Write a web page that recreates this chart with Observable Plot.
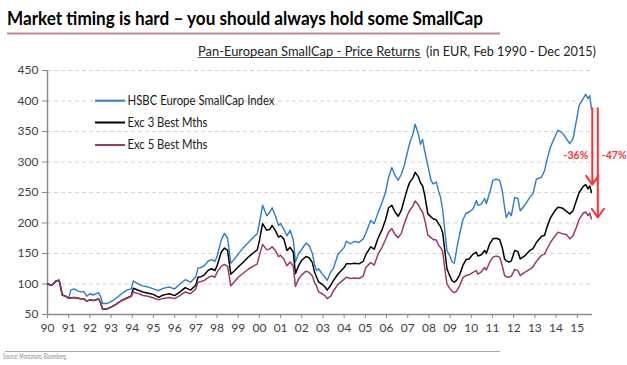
<!DOCTYPE html>
<html>
<head>
<meta charset="utf-8">
<script src="https://cdn.jsdelivr.net/npm/d3@7"></script>
<script src="https://cdn.jsdelivr.net/npm/@observablehq/plot@0.6"></script>
<style>
  html, body { margin: 0; padding: 0; background: #fff; }
  #wrap { position: relative; width: 627px; height: 365px; overflow: hidden; font-family: Lato, "Open Sans", sans-serif; }
  #chart, #overlay { position: absolute; left: 0; top: 0; }
  #overlay { pointer-events: none; }
</style>
</head>
<body>
<div id="wrap">
  <div id="chart"></div>
  <svg id="overlay" width="627" height="365"></svg>
</div>
<script>
// ---- data ----
const years = [
  1990.00,1990.20,1990.40,1990.55,1990.70,1990.85,1991.00,1991.10,1991.25,1991.40,1991.55,1991.70,1991.85,
  1992.00,1992.15,1992.30,1992.40,1992.50,1992.60,1992.80,1993.00,1993.25,1993.50,1993.75,1993.95,
  1994.05,1994.20,1994.35,1994.50,1994.75,1995.00,1995.25,1995.40,1995.60,1995.75,1996.00,1996.25,1996.50,1996.75,
  1997.00,1997.10,1997.25,1997.40,1997.60,1997.75,1997.90,1998.00,1998.20,1998.35,1998.50,1998.65,1998.80,
  1999.00,1999.25,1999.50,1999.75,1999.90,2000.00,2000.15,2000.35,2000.50,2000.60,2000.75,2000.90,
  2001.00,2001.15,2001.30,2001.45,2001.60,2001.70,2001.85,2002.00,2002.20,2002.35,2002.50,2002.60,2002.70,2002.80,2002.95,
  2003.10,2003.20,2003.37,2003.50,2003.70,2004.00,2004.10,2004.30,2004.50,2004.70,2004.90,
  2005.02,2005.25,2005.42,2005.60,2005.80,2005.95,2006.10,2006.25,2006.40,2006.55,2006.70,2006.85,
  2007.00,2007.10,2007.25,2007.35,2007.50,2007.60,2007.70,2007.80,2007.95,2008.10,2008.20,2008.35,2008.45,2008.55,2008.65,2008.75,2008.85,
  2009.00,2009.10,2009.20,2009.30,2009.45,2009.60,2009.75,2009.90,2010.08,2010.24,2010.31,2010.47,2010.63,2010.71,2010.87,
  2011.02,2011.18,2011.34,2011.46,2011.57,2011.65,2011.78,2011.89,2012.05,2012.20,2012.31,2012.52,2012.76,2012.91,
  2013.07,2013.31,2013.46,2013.57,2013.73,2013.94,2014.09,2014.25,2014.36,2014.49,2014.65,2014.80,2014.96,
  2015.09,2015.28,2015.40,2015.51,2015.59,2015.67
];
const hsbc = [
  100,98,105,106,82,80,77,90,92,89,87,88,80,
  84,82,84,86,80,68,68,71,77,84,90,92,
  105,102,99,97,95,92,89,92,94,95,92,100,107,103,
  112,126,127,130,138,140,137,145,172,183,175,134,140,
  149,160,169,178,182,200,229,212,218,225,212,196,
  199,190,179,188,172,136,150,157,167,163,150,132,122,125,117,
  111,106,120,126,148,160,170,166,170,168,174,
  183,204,199,217,235,250,275,291,278,270,280,296,
  318,332,346,362,346,329,337,318,294,270,264,267,253,242,221,188,155,
  145,136,134,155,182,205,216,218,223,237,229,231,240,232,250,
  270,272,270,253,226,209,218,212,242,240,220,229,242,248,
  272,275,286,303,324,341,352,349,345,338,330,338,368,
  393,404,411,404,409,387
];
const exc3 = [
  100,98,105,106,82,80,77,77,78,77,76,76,72,
  74,73,74,76,70,59,59,62,67,73,77,80,
  93,91,89,87,85,83,78,81,83,84,81,87,94,90,
  98,111,112,115,123,125,122,130,152,159,155,116,121,
  128,136,145,152,156,171,199,188,190,196,188,177,
  179,174,155,160,152,117,130,139,145,143,135,120,111,103,100,
  95,90,98,106,116,127,133,133,134,133,137,
  148,161,157,175,190,205,225,229,218,211,221,240,
  258,267,274,283,276,266,261,246,215,210,207,205,199,194,184,155,125,
  112,105,103,106,115,130,140,141,149,152,146,148,155,150,166,
  174,175,173,160,141,138,136,138,155,153,141,146,155,158,
  168,178,180,193,208,220,226,225,223,219,215,220,237,
  250,260,263,256,261,250
];
const exc5 = [
  100,98,105,106,82,80,77,77,78,77,76,76,72,
  74,73,74,76,70,59,59,62,67,73,77,80,
  87,85,84,81,80,77,74,76,77,78,76,81,87,84,
  92,103,104,106,111,113,111,119,129,132,129,97,103,
  111,118,125,130,133,147,165,156,158,161,155,145,
  147,141,130,136,129,96,108,115,121,119,113,103,96,87,84,
  81,76,80,89,99,108,111,109,110,109,113,
  127,135,131,149,161,173,185,191,181,176,183,200,
  214,221,228,236,230,223,218,206,180,176,173,172,164,160,153,125,100,
  92,88,86,88,97,110,114,115,119,122,116,120,127,123,136,
  144,146,144,130,114,112,111,113,124,122,114,119,124,128,
  137,147,149,157,168,178,185,183,182,181,174,179,193,
  206,216,218,212,216,207
];
const seriesNames = ["HSBC Europe SmallCap Index", "Exc 3 Best Mths", "Exc 5 Best Mths"];
const seriesColors = ["#2f7bc8", "#000000", "#983a6a"];
const yTicks = [50, 100, 150, 200, 250, 300, 350, 400, 450];
const xTicks = [1990,1991,1992,1993,1994,1995,1996,1997,1998,1999,2000,2001,2002,2003,2004,2005,2006,2007,2008,2009,2010,2011,2012,2013,2014,2015];
const xTickLabels = ["90","91","92","93","94","95","96","97","98","99","00","01","02","03","04","05","06","07","08","09","10","11","12","13","14","15"];
// drawdown arrows: x (year), start value, end value, label
const arrowX = [2015.71, 2015.97];
const arrowFrom = [388, 388];
const arrowTo = [263, 209];
const arrowLabels = ["-36%", "-47%"];
const arrowLabelY = [310, 310];

const titleText = "Market timing is hard \u2013 you should always hold some SmallCap";
const subtitleMain = "Pan-European SmallCap - Price Returns";
const subtitleRest = "(in EUR, Feb 1990 -  Dec 2015)";
const sourceText = "Source: Montanaro, Bloomberg.";

// ---- build tables ----
const allSeries = [hsbc, exc3, exc5];
const rows = allSeries.map((vals, s) => years.map((t, i) => ({t, v: vals[i], s: seriesNames[s]})));
const arrows = arrowX.map((x, i) => ({x, from: arrowFrom[i], to: arrowTo[i], label: arrowLabels[i], ly: arrowLabelY[i]}));

const plot = Plot.plot({
  width: 627,
  height: 365,
  marginTop: 70,
  marginBottom: 51,
  marginLeft: 47,
  marginRight: 35,
  style: {fontFamily: "Lato, 'Open Sans', sans-serif", fontSize: "12px", color: "#404040", background: "transparent", overflow: "visible"},
  x: {domain: [1990, 2015.72], label: null},
  y: {domain: [50, 450], label: null},
  marks: [
    Plot.gridY(yTicks.filter(d => d > 50), {stroke: "#d4d4d4", strokeOpacity: 1, strokeDasharray: "4,3"}),
    Plot.axisY({ticks: yTicks, tickSize: 5, tickPadding: 4, stroke: "#888", fill: "#404040", fontSize: 12}),
    Plot.axisX({ticks: xTicks, tickFormat: d => xTickLabels[xTicks.indexOf(d)], tickSize: 4, tickPadding: 5, stroke: "#888", fill: "#404040", fontSize: 12}),
    Plot.ruleX([1990], {stroke: "#8c8c8c", strokeWidth: 1.5}),
    Plot.ruleY([50], {stroke: "#8c8c8c", strokeWidth: 1.5}),
    Plot.line(rows[0], {x: "t", y: "v", stroke: seriesColors[0], strokeWidth: 1.4}),
    Plot.line(rows[1], {x: "t", y: "v", stroke: seriesColors[1], strokeWidth: 1.5}),
    Plot.line(rows[2], {x: "t", y: "v", stroke: seriesColors[2], strokeWidth: 1.5}),
    Plot.arrow(arrows, {x1: "x", x2: "x", y1: "from", y2: "to", stroke: "#ff3030", strokeWidth: 2, headLength: 8, headAngle: 70}),
    Plot.text(arrows.slice(0, 1), {x: "x", y: "ly", text: "label", textAnchor: "end", dx: -4, fill: "#ff3030", fontWeight: "bold", fontSize: 10.5}),
    Plot.text(arrows.slice(1), {x: "x", y: "ly", text: "label", textAnchor: "start", dx: 4, fill: "#ff3030", fontWeight: "bold", fontSize: 10.5})
  ]
});
document.getElementById("chart").appendChild(plot);

// ---- overlay: title, subtitle, legend, source ----
const ov = d3.select("#overlay");
const ff = "Lato, 'Open Sans', sans-serif";
ov.append("text").attr("x", 7).attr("y", 25).attr("font-family", ff).attr("font-weight", "bold")
  .attr("font-size", 19.5).attr("fill", "#000").attr("textLength", 476).attr("lengthAdjust", "spacingAndGlyphs").text(titleText);
ov.append("line").attr("x1", 7).attr("x2", 500).attr("y1", 33.5).attr("y2", 33.5).attr("stroke", "#c2849f").attr("stroke-width", 2);
ov.append("text").attr("x", 198).attr("y", 55.5).attr("font-family", ff).attr("font-size", 13).attr("fill", "#222")
  .attr("textLength", 222).attr("lengthAdjust", "spacingAndGlyphs").text(subtitleMain);
ov.append("line").attr("x1", 198).attr("x2", 421).attr("y1", 57.5).attr("y2", 57.5).attr("stroke", "#222").attr("stroke-width", 0.8);
ov.append("text").attr("x", 426).attr("y", 55.5).attr("font-family", ff).attr("font-size", 13).attr("fill", "#222")
  .attr("textLength", 170).attr("lengthAdjust", "spacingAndGlyphs").text(subtitleRest);

const legendY = [100.7, 122.5, 145];
const legendW = [147, 80, 80];
seriesNames.forEach((name, i) => {
  ov.append("line").attr("x1", 95).attr("x2", 125).attr("y1", legendY[i]).attr("y2", legendY[i])
    .attr("stroke", seriesColors[i]).attr("stroke-width", 2);
  ov.append("text").attr("x", 127.5).attr("y", legendY[i] + 4.3).attr("font-family", ff).attr("font-size", 12.5)
    .attr("fill", "#1a1a1a").attr("textLength", legendW[i]).attr("lengthAdjust", "spacingAndGlyphs").text(name);
});

ov.append("line").attr("x1", 5).attr("x2", 500).attr("y1", 351.5).attr("y2", 351.5).attr("stroke", "#a6a6a6").attr("stroke-width", 1);
ov.append("text").attr("x", 3).attr("y", 359).attr("font-family", ff).attr("font-size", 7).attr("fill", "#8c8c8c")
  .attr("textLength", 64).attr("lengthAdjust", "spacingAndGlyphs").text(sourceText);
</script>
</body>
</html>
